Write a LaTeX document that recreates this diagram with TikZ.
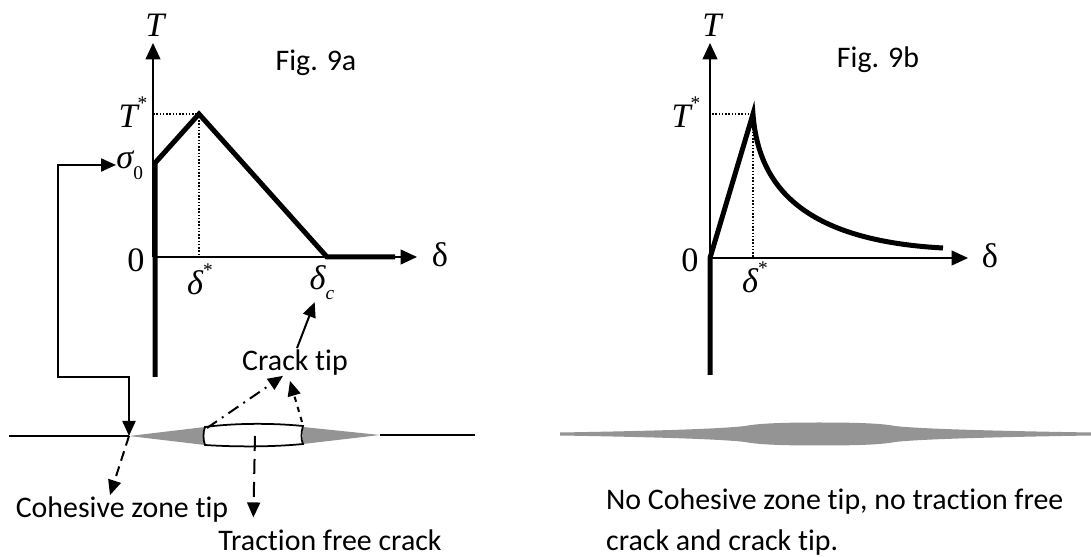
\documentclass[tikz,border=0pt]{standalone}
\usepackage{fontspec}
\setmainfont[Ligatures=NoCommon]{Carlito}
\newfontfamily\tms{Liberation Serif}
\usetikzlibrary{arrows.meta,calc}
\newcommand{\mv}[1]{{\tms\itshape #1}}
\newcommand{\smallidx}{\fontsize{11}{12}\selectfont}

\begin{document}
\begin{tikzpicture}[x=0.2mm,y=-0.2mm,
  every node/.style={font=\fontsize{17}{23}\selectfont,inner sep=1pt},
  sym/.style={font=\fontsize{19.5}{23}\selectfont},
  ax/.style={line width=0.3mm,-{Triangle[length=3.3mm,width=3mm]}},
  law/.style={line width=1mm,line join=miter},
  guide/.style={densely dotted,line width=0.3mm},
  conn/.style={line width=0.4mm,-{Triangle[length=3mm,width=2.6mm]}},
  crk/.style={line width=0.4mm},
  zone/.style={fill=black!42,draw=none}
]
\useasboundingbox (0,0) rectangle (1091,557);

% ---- Fig. 9a
\coordinate (o1) at (153,257);
\coordinate (ytop1) at (153,43);
\coordinate (xend1) at (417,257);
\coordinate (pk1) at (199,114);
\draw[ax] (o1) -- (ytop1);
\draw[ax] (o1) -- (xend1);
\node[sym] (T1) at (155,25) {\mv{T}};
\node[sym] (d1) at (440,255) {{\tms δ}};
\node[sym] (z1) at (136,260) {{\tms 0}};
\node[sym] (Ts1) at (133,112) {\mv{T}\raisebox{1.1ex}{\smallidx\tms *}};
\node[sym] (ds1) at (200,279) {\mv{δ}\raisebox{1.1ex}{\smallidx\tms *}};
\node[sym] (dc) at (322,283) {\mv{δ}\raisebox{-0.6ex}{\smallidx\mv{c}}};
\node[sym,anchor=west,inner sep=0pt] (sig0) at (116,165) {\mv{σ}\raisebox{-0.7ex}{\smallidx\tms 0}};
\node (fig1) at (316,63) {Fig. 9a};
\draw[guide] (153,114) -- (pk1) -- (199,257);
\draw[law] (155,377) -- (155,163) -- (pk1) -- (327,257) -- (395,257);

% crack
\coordinate (czt) at (129,436);
\coordinate (bend1) at (58,377);
\coordinate (ocL) at (207,428);
\coordinate (ocR) at (302,422);
\coordinate (ocM) at (255,436);
\draw[crk] (9,436) -- (czt);
\draw[crk] (380,435) -- (475,435);
\fill[zone] (czt) -- (205,427) -- (205,445) -- cycle;
\fill[zone] (303,427) -- (380,435) -- (303,444) -- cycle;
\draw[line width=0.35mm,fill=white] (205,427) .. controls (235,423) and (273,423) .. (303,426)
  .. controls (301,432) and (301,440) .. (303,444)
  .. controls (273,447) and (235,447) .. (205,445)
  .. controls (203,440) and (203,432) .. cycle;

\node (ctip) at (295,363) {Crack tip};
\node (czl) at (122,510) {Cohesive zone tip};
\node (tfc) at (330,540) {Traction free crack};
\draw[conn,{Triangle[length=3mm,width=2.6mm]}-{Triangle[length=3mm,width=2.6mm]}]
  (sig0.west) -| (bend1) -| (czt);
\draw[conn] ($(ctip.north)+(2,0)$) -- (dc);
\draw[conn,dash pattern=on 2.4mm off 1.2mm on 0.4mm off 1.2mm] (ocL) -- ($(ctip.south)+(-12,-2)$);
\draw[conn,dashed] (ocR) -- ($(ctip.south)+(-5,3)$);
\draw[conn,dash pattern=on 2mm off 1.2mm] (czt) -- ($(czl.north)+(-12,0)$);
\draw[conn,dash pattern=on 3mm off 1.6mm] (ocM) -- ($(tfc.north west)+(37,-10)$);

% ---- Fig. 9b
\coordinate (o2) at (710,258);
\coordinate (ytop2) at (710,43);
\coordinate (xend2) at (968,258);
\coordinate (pk2) at (753,114);
\draw[ax] (o2) -- (ytop2);
\draw[ax] (o2) -- (xend2);
\node[sym] (T2) at (712,25) {\mv{T}};
\node[sym] (d2) at (990,256) {{\tms δ}};
\node[sym] (z2) at (690,260) {{\tms 0}};
\node[sym] (Ts2) at (686,112) {\mv{T}\raisebox{1.1ex}{\smallidx\tms *}};
\node[sym] (ds2) at (755,277) {\mv{δ}\raisebox{1.1ex}{\smallidx\tms *}};
\node (fig2) at (878,60) {Fig. 9b};
\draw[guide] (712,114) -- (pk2) -- (753,258);
\draw[law] (710,375) -- (710,258) -- (pk2) .. controls (758,180) and (795,240) .. (943,248);

% no crack band
\fill[zone] (560,432.5) .. controls (650,431) and (720,429) .. (745,426)
  .. controls (760,423) and (790,422.5) .. (818,422.5)
  .. controls (850,422.5) and (880,423) .. (895,426)
  .. controls (920,429) and (1000,431) .. (1091,432.5)
  -- (1091,435.5) .. controls (1000,437) and (920,439) .. (895,442)
  .. controls (880,445) and (850,445.5) .. (818,445.5)
  .. controls (790,445.5) and (760,445) .. (745,442)
  .. controls (720,439) and (650,437) .. (560,435.5) -- cycle;
\node[align=left,anchor=west] (note) at (604,522)
  {No Cohesive zone tip, no traction free\\crack and crack tip.};
\end{tikzpicture}
\end{document}
